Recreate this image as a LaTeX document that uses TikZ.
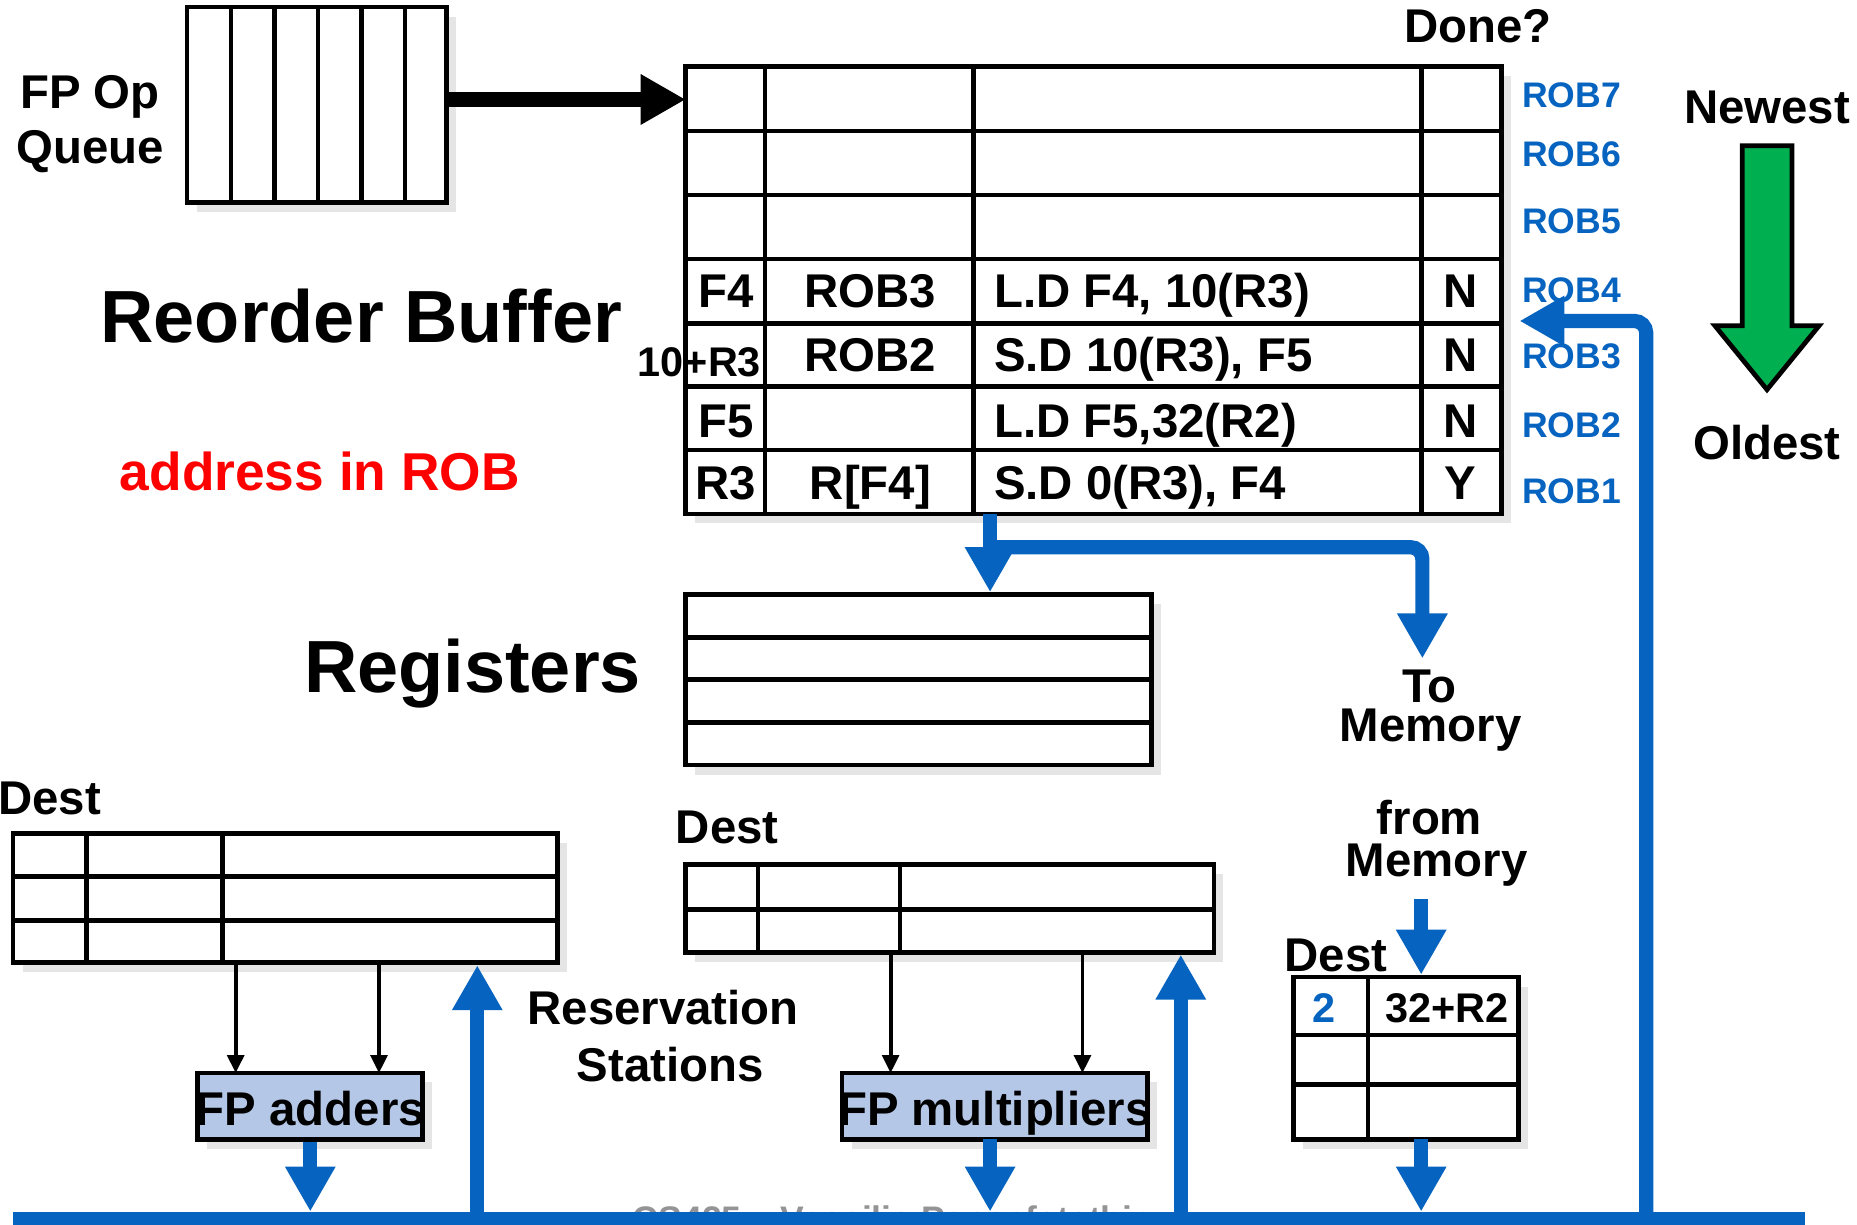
\documentclass[tikz,border=0pt]{standalone}
\usepackage{fontspec}
\setmainfont{Liberation Sans}
\usetikzlibrary{arrows.meta,fit,shadows}
\definecolor{bblue}{RGB}{6,100,192}
\definecolor{agreen}{RGB}{0,176,80}
\definecolor{fpfill}{RGB}{180,199,231}
\begin{document}
\begin{tikzpicture}[x=0.5pt,y=-0.5pt,
  shadowed/.style={drop shadow={shadow xshift=4pt,shadow yshift=-4pt,opacity=0.14,fill=black!70}},
  tbl/.style={draw=black,line width=2pt,fill=white,inner sep=0pt,shadowed},
  fpu/.style={draw=black,line width=2pt,fill=fpfill,inner sep=0pt,shadowed},
  gridln/.style={line width=2pt},
  lbl/.style={inner sep=0pt,anchor=base,font=\fontsize{20}{24}\selectfont\bfseries},
  lblw/.style={lbl,anchor=base west},
  midl/.style={inner sep=0pt,anchor=base,font=\fontsize{17.5}{21}\selectfont\bfseries},
  bigl/.style={inner sep=0pt,anchor=base,font=\fontsize{31.2}{36}\selectfont\bfseries},
  robl/.style={inner sep=0pt,anchor=base west,text=bblue,font=\fontsize{15}{18}\selectfont\bfseries},
  bluearr/.style={draw=bblue,line width=6pt,-{Triangle[length=19pt,width=20pt]}},
  blueln/.style={draw=bblue,line width=6pt},
  thinarr/.style={draw=black,line width=1.6pt,-{Triangle[length=7.5pt,width=7pt]}},
  mainarr/.style={draw=black,line width=6.5pt,-{Triangle[length=19pt,width=20pt]}}
]
\useasboundingbox (0,0) rectangle (1568,1034);
\fill[white] (0,0) rectangle (1568,1034);

% ---------- FP Op Queue ----------
\node[lbl] (fpop) at (76,91.5) {FP Op};
\node[lbl] (queuelbl) at (76,138) {Queue};
\node[tbl,fit={(158,6) (377,171)}] (queue) {};
\foreach \xx in {195,232,268.5,305,342} \draw[gridln] (\xx,6) -- (\xx,171);

% ---------- Reorder buffer ----------
\node[tbl,fit={(579,56) (1268,434)}] (rob) {};
\foreach \yy in {110.6,164.7,218.7,272.9,326.5,380} \draw[gridln] (579,\yy) -- (1268,\yy);
\foreach \xx in {646,822,1200} \draw[gridln] (\xx,56) -- (\xx,434);

\coordinate (robin) at (579,84);
\draw[mainarr] (queue.east |- robin) -- (robin);

\node[lbl] (done) at (1248,36) {Done?};

\node[lbl] (c41) at (613,260) {F4};
\node[lbl] (c42) at (735,260) {ROB3};
\node[lblw] (c43) at (839,260) {L.D F4, 10(R3)};
\node[lbl] (c44) at (1233,260) {N};

\node[midl,anchor=base east] (c51) at (643,318) {10+R3};
\node[lbl] (c52) at (735,314) {ROB2};
\node[lblw] (c53) at (839,314) {S.D 10(R3), F5};
\node[lbl] (c54) at (1233,314) {N};

\node[lbl] (c61) at (613,369) {F5};
\node[lblw] (c63) at (839,369) {L.D F5,32(R2)};
\node[lbl] (c64) at (1233,369) {N};

\node[lbl] (c71) at (613,422) {R3};
\node[lbl] (c72) at (735,422) {R[F4]};
\node[lblw] (c73) at (839,422) {S.D 0(R3), F4};
\node[lbl] (c74) at (1233,422) {Y};

\foreach \n/\yy in {7/91,6/141,5/197,4/255,3/311,2/369,1/425}
  \node[robl] (robl\n) at (1285,\yy) {ROB\n};

% ---------- Newest / Oldest ----------
\node[lbl] (newest) at (1492,104) {Newest};
\node[lbl] (oldest) at (1492,388) {Oldest};
\draw[fill=agreen,line width=2pt,line join=miter]
  (1471,123) -- (1513,123) -- (1513,275) -- (1536,275) -- (1492,329) -- (1448,275) -- (1471,275) -- cycle;

% ---------- Titles ----------
\node[bigl] (robtitle) at (305,289) {Reorder Buffer};
\node[inner sep=0pt,anchor=base,text=red,font=\fontsize{22.5}{26}\selectfont\bfseries] (addr) at (270,414) {address in ROB};
\node[bigl] (regtitle) at (399,585) {Registers};

% ---------- Registers ----------
\node[tbl,fit={(579,502) (972,646)}] (regs) {};
\foreach \yy in {538,574,610} \draw[gridln] (579,\yy) -- (972,\yy);

% ---------- Memory labels ----------
\node[lbl] (to) at (1207,593) {To};
\node[lbl] (tomemlbl) at (1208,626.5) {Memory};
\node[lbl] (from) at (1207,705) {from};
\node[lbl] (frommemlbl) at (1213,740) {Memory};

% ---------- Reservation stations ----------
\node[lbl] (dest1) at (42,688) {Dest};
\node[tbl,fit={(11,704) (471,813)}] (rs1) {};
\foreach \yy in {740,777} \draw[gridln] (11,\yy) -- (471,\yy);
\foreach \xx in {73,188} \draw[gridln] (\xx,704) -- (\xx,813);

\node[lbl] (dest2) at (614,712) {Dest};
\node[tbl,fit={(579,730) (1025,804)}] (rs2) {};
\draw[gridln] (579,768) -- (1025,768);
\foreach \xx in {640,760} \draw[gridln] (\xx,730) -- (\xx,804);

\node[lbl] (resv) at (560,865) {Reservation};
\node[lbl] (stat) at (566,913) {Stations};

% ---------- Load buffer ----------
\node[lbl] (dest3) at (1128,820) {Dest};
\node[tbl,fit={(1092,825) (1282,962)}] (lb) {};
\foreach \yy in {874,916} \draw[gridln] (1092,\yy) -- (1282,\yy);
\draw[gridln] (1155,825) -- (1155,962);
\node[midl,text=bblue] (lb1) at (1118,863) {2};
\node[midl] (lb2) at (1222,863) {32+R2};

% ---------- Functional units ----------
\node[fpu,fit={(167,906) (357,962)}] (add) {};
\node[lbl] (addlbl) at (262,950) {FP adders};
\node[fpu,fit={(711,906) (969,962)}] (mul) {};
\node[lbl] (mullbl) at (840,950) {FP multipliers};

\coordinate (a1) at (199,906);
\coordinate (a2) at (320,906);
\coordinate (m1) at (752,906);
\coordinate (m2) at (914,906);
\draw[thinarr] (a1 |- rs1.south) -- (a1);
\draw[thinarr] (a2 |- rs1.south) -- (a2);
\draw[thinarr] (m1 |- rs2.south) -- (m1);
\draw[thinarr] (m2 |- rs2.south) -- (m2);

% ---------- footer (mostly hidden by the bus) ----------
\node[inner sep=0pt,anchor=base west,text=black!42,font=\fontsize{15}{18}\selectfont\bfseries] (footer) at (534,1040) {CS425 \textendash{} Vassilis Papaefstathiou};

% ---------- blue connectors ----------
\coordinate (bustop) at (0,1023);
\coordinate (busL) at (11,1029);
\coordinate (busR) at (1524,1029);

\coordinate (robout) at (836,434);
\draw[bluearr] (robout) -- (robout |- regs.north);
\coordinate (tap) at (836,462);
\coordinate (tomem) at (1201,556);
\draw[bluearr,rounded corners=5pt] (tap) -| (tomem);

\coordinate (fm) at (1200,759);
\draw[bluearr] (fm) -- (fm |- lb.north);

\draw[bluearr] (add.south) -- (add.south |- bustop);
\coordinate (mout) at (836,962);
\draw[bluearr] (mout) -- (mout |- bustop);
\coordinate (lbout) at (1200,962);
\draw[bluearr] (lbout) -- (lbout |- bustop);

\coordinate (up1) at (403,1029);
\draw[bluearr] (up1) -- (up1 |- rs1.south);
\coordinate (up2) at (997,1029);
\draw[bluearr] (up2) -- (up2 |- rs2.south);

\coordinate (busup) at (1390,1029);
\coordinate (robret) at (1283,271);
\draw[bluearr,rounded corners=5pt] (busup) |- (robret);

\draw[blueln] (busL) -- (busR);
\end{tikzpicture}
\end{document}
